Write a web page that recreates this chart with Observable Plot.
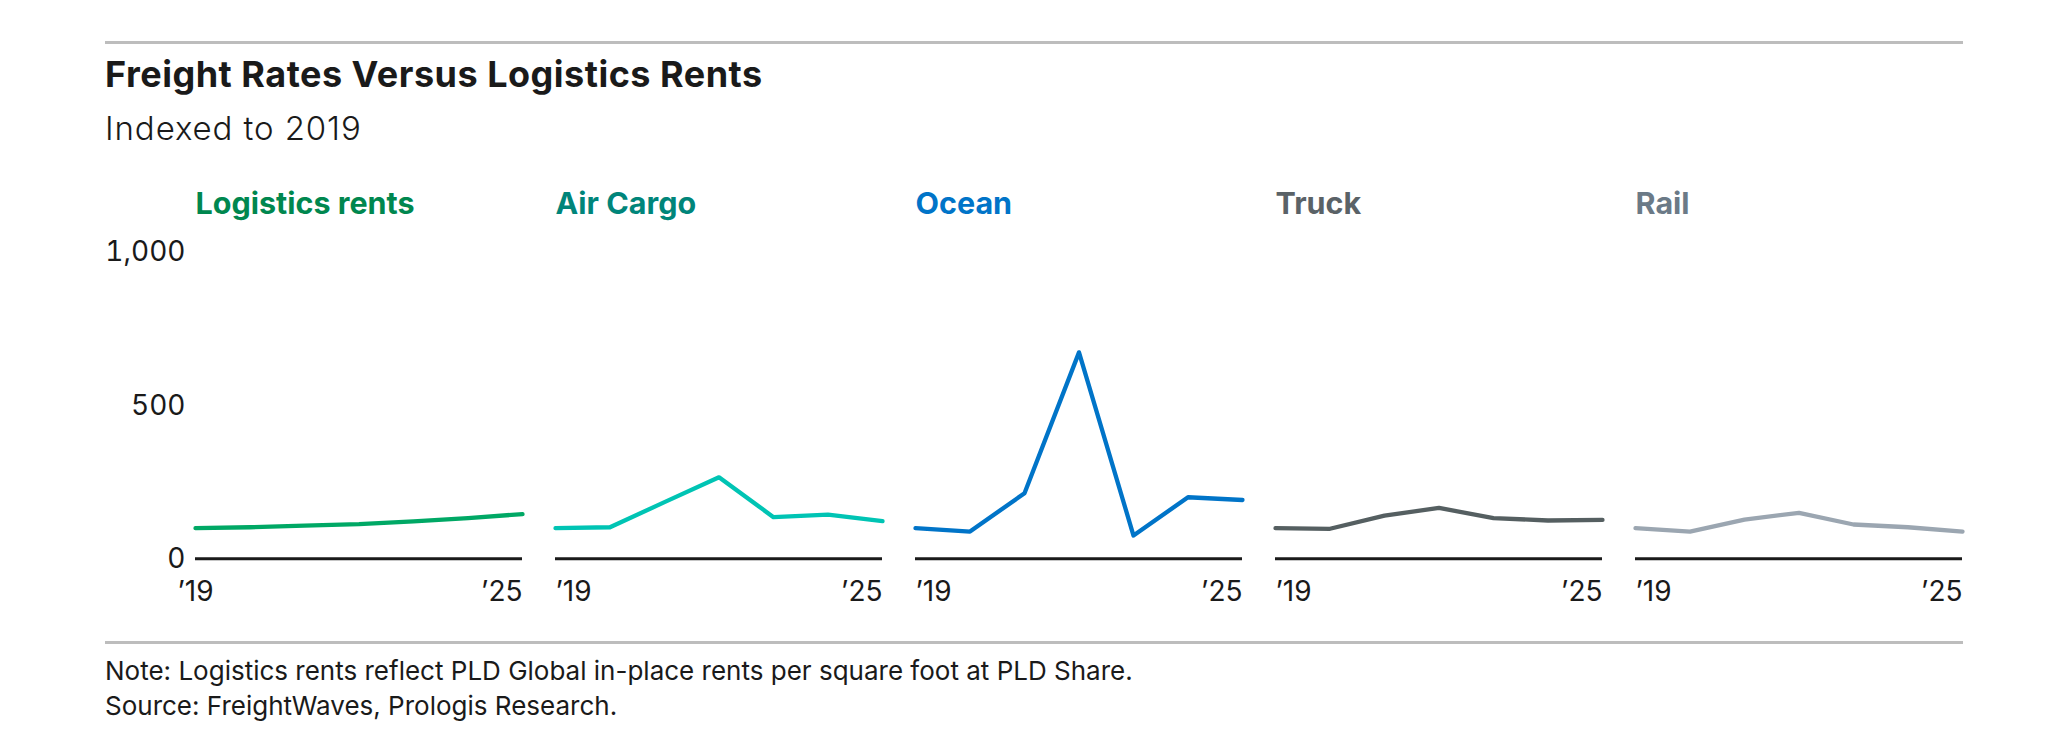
<!DOCTYPE html>
<html><head><meta charset="utf-8">
<script src="https://cdn.jsdelivr.net/npm/d3@7"></script>
<script src="https://cdn.jsdelivr.net/npm/@observablehq/plot@0.6"></script>
<style>
body{margin:0;background:#fff;font-family:Inter,"Noto Sans",sans-serif;color:#1a1a1a;}
#wrap{position:relative;width:2061px;height:745px;overflow:hidden;background:#fff}
.rule{position:absolute;left:105px;width:1858px;height:3px;background:#bdbdbd}
.t{position:absolute;left:105px;line-height:1;white-space:nowrap}
#chart{position:absolute;left:0;top:170px}
</style></head>
<body><div id="wrap">
<div class="rule" style="top:41px"></div>
<div class="t" style="top:55.6px;font-size:36px;font-weight:700;letter-spacing:0.5px;color:#1a1a1a">Freight Rates Versus Logistics Rents</div>
<div class="t" style="top:111.5px;font-size:33px;font-weight:300;letter-spacing:0.9px;color:#1a1a1a">Indexed to 2019</div>
<div id="chart"></div>
<div class="rule" style="top:641px"></div>
<div class="t" style="top:657.5px;font-size:26px;color:#1a1a1a">Note: Logistics rents reflect PLD Global in-place rents per square foot at PLD Share.</div>
<div class="t" style="top:693px;font-size:26px;color:#1a1a1a">Source: FreightWaves, Prologis Research.</div>
</div>
<script>
const years = [2019, 2020, 2021, 2022, 2023, 2024, 2025];
const series = ["Logistics rents", "Air Cargo", "Ocean", "Truck", "Rail"];
const logistics = [100, 103, 108, 113, 122, 133, 146];
const airCargo = [100, 103, 185, 266, 136, 144, 123];
const ocean = [100, 89, 214, 674, 76, 201, 192];
const truck = [100, 98, 141, 166, 133, 125, 127];
const rail = [100, 89, 128, 150, 112, 103, 89];
const lineColors = ["#00a865", "#00c4b4", "#0074c8", "#555f61", "#9ba6b1"];
const titleColors = ["#00874f", "#00857a", "#0074c8", "#5a6267", "#6b7a87"];
const yTicks = [0, 500, 1000];
const xTickYears = [2019, 2025];
const xTickLabels = ["’19", "’25"];

const values = [logistics, airCargo, ocean, truck, rail];
const data = series.flatMap((s, i) => years.map((y, j) => ({series: s, year: y, value: values[i][j]})));
const xlabels = series.flatMap((s, i) => xTickYears.map((y, j) => ({series: s, year: y, label: xTickLabels[j], idx: i, j})));

const fontSize = 28;
const lblDy = 22;
const marks = [
  Plot.axisY({ticks: yTicks, tickSize: 0, tickPadding: 10, fontSize: 28, tickFormat: d3.format(","), label: null, color: "#1a1a1a"}),
  Plot.ruleY([0], {stroke: "#1a1a1a", strokeWidth: 3})
];
series.forEach((s, i) => {
  marks.push(Plot.lineY(data.filter(d => d.series === s), {x: "year", y: "value", fx: "series", stroke: lineColors[i], strokeWidth: 4.3}));
  marks.push(Plot.text([s], {fx: d => d, text: d => d, fill: titleColors[i], frameAnchor: "top-left", lineAnchor: "top", dy: -60, fontSize: 30.5, fontWeight: 700}));
});
marks.push(Plot.text(xlabels.filter(d => d.j === 0 && d.idx === 0), {fx: "series", x: "year", text: "label", frameAnchor: "bottom", lineAnchor: "top", dy: lblDy, fontSize, textAnchor: "middle", fill: "#1a1a1a"}));
marks.push(Plot.text(xlabels.filter(d => d.j === 0 && d.idx > 0), {fx: "series", x: "year", text: "label", frameAnchor: "bottom", lineAnchor: "top", dy: lblDy, fontSize, textAnchor: "start", fill: "#1a1a1a"}));
marks.push(Plot.text(xlabels.filter(d => d.j === 1), {fx: "series", x: "year", text: "label", frameAnchor: "bottom", lineAnchor: "top", dy: lblDy, fontSize, textAnchor: "end", fill: "#1a1a1a"}));

const plot = Plot.plot({
  width: 2061, height: 440,
  marginLeft: 193, marginRight: 97.5, marginTop: 82, marginBottom: 51.7,
  style: {fontFamily: "Inter, sans-serif", background: "transparent", overflow: "visible"},
  fx: {domain: series, paddingInner: 0.092, paddingOuter: 0, axis: null, label: null},
  x: {domain: [2019, 2025], axis: null},
  y: {domain: [0, 1000], axis: null},
  marks
});
document.getElementById("chart").appendChild(plot);
</script>
</body></html>
